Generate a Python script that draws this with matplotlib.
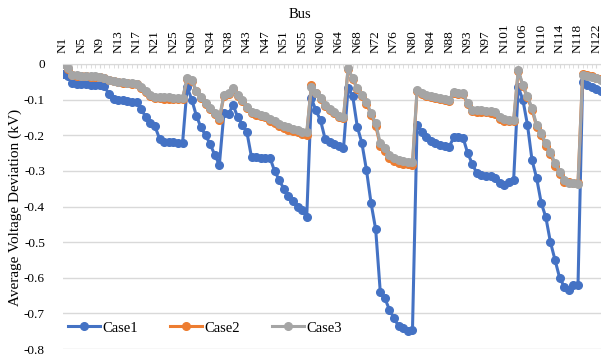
import numpy as np
import matplotlib
matplotlib.use('Agg')
import matplotlib.pyplot as plt

plt.rcParams['font.family'] = ['Liberation Serif', 'DejaVu Serif']

# bus tick labels (every 4th bus on the axis)
bus_labels = ['N1', 'N5', 'N9', 'N13', 'N17', 'N21', 'N25', 'N30', 'N34', 'N38',
              'N43', 'N47', 'N51', 'N55', 'N60', 'N64', 'N68', 'N72', 'N76', 'N80',
              'N84', 'N88', 'N93', 'N97', 'N101', 'N106', 'N110', 'N114', 'N118', 'N122']

case1 = [-0.028, -0.033, -0.052, -0.055, -0.056, -0.057, -0.058, -0.058, -0.059, -0.062,
         -0.085, -0.097, -0.100, -0.102, -0.104, -0.106, -0.108, -0.125, -0.150, -0.165,
         -0.175, -0.210, -0.218, -0.220, -0.220, -0.222, -0.222, -0.065, -0.100, -0.145,
         -0.178, -0.200, -0.225, -0.255, -0.283, -0.137, -0.140, -0.115, -0.150, -0.170,
         -0.192, -0.262, -0.262, -0.263, -0.263, -0.263, -0.300, -0.325, -0.350, -0.370,
         -0.385, -0.400, -0.410, -0.430, -0.096, -0.130, -0.158, -0.210, -0.220, -0.225,
         -0.230, -0.237, -0.068, -0.090, -0.176, -0.222, -0.298, -0.391, -0.464, -0.640,
         -0.658, -0.690, -0.714, -0.736, -0.742, -0.749, -0.747, -0.170, -0.190, -0.205,
         -0.215, -0.222, -0.228, -0.230, -0.232, -0.205, -0.204, -0.207, -0.250, -0.280,
         -0.307, -0.312, -0.313, -0.315, -0.320, -0.335, -0.340, -0.332, -0.326, -0.065,
         -0.100, -0.170, -0.270, -0.320, -0.390, -0.430, -0.500, -0.550, -0.600, -0.625,
         -0.635, -0.620, -0.620, -0.050, -0.060, -0.065, -0.070, -0.075]

case2 = [0.000, -0.013, -0.031, -0.033, -0.034, -0.035, -0.036, -0.036, -0.037, -0.039,
         -0.046, -0.049, -0.051, -0.052, -0.053, -0.055, -0.057, -0.067, -0.078, -0.091,
         -0.095, -0.096, -0.097, -0.097, -0.098, -0.098, -0.099, -0.042, -0.047, -0.077,
         -0.095, -0.112, -0.127, -0.141, -0.156, -0.089, -0.084, -0.070, -0.089, -0.103,
         -0.123, -0.138, -0.142, -0.146, -0.150, -0.160, -0.166, -0.174, -0.181, -0.184,
         -0.188, -0.192, -0.196, -0.198, -0.060, -0.080, -0.098, -0.118, -0.128, -0.138,
         -0.148, -0.151, -0.014, -0.042, -0.071, -0.091, -0.111, -0.143, -0.173, -0.229,
         -0.244, -0.263, -0.272, -0.277, -0.280, -0.282, -0.284, -0.075, -0.083, -0.090,
         -0.093, -0.095, -0.098, -0.101, -0.103, -0.081, -0.083, -0.085, -0.113, -0.132,
         -0.134, -0.134, -0.136, -0.137, -0.139, -0.154, -0.159, -0.160, -0.161, -0.019,
         -0.062, -0.094, -0.128, -0.176, -0.200, -0.229, -0.252, -0.285, -0.308, -0.330,
         -0.332, -0.333, -0.334, -0.027, -0.031, -0.034, -0.038, -0.043]

case3 = [0.000, -0.012, -0.030, -0.032, -0.033, -0.034, -0.035, -0.035, -0.036, -0.038,
         -0.045, -0.048, -0.050, -0.051, -0.052, -0.053, -0.055, -0.065, -0.075, -0.088,
         -0.092, -0.093, -0.094, -0.094, -0.095, -0.095, -0.096, -0.040, -0.045, -0.075,
         -0.093, -0.110, -0.124, -0.138, -0.152, -0.087, -0.082, -0.068, -0.087, -0.100,
         -0.120, -0.135, -0.138, -0.142, -0.146, -0.155, -0.160, -0.168, -0.175, -0.178,
         -0.182, -0.186, -0.190, -0.192, -0.064, -0.082, -0.096, -0.115, -0.125, -0.135,
         -0.145, -0.148, -0.012, -0.040, -0.068, -0.087, -0.106, -0.138, -0.167, -0.223,
         -0.237, -0.256, -0.265, -0.270, -0.273, -0.275, -0.276, -0.072, -0.080, -0.087,
         -0.090, -0.092, -0.095, -0.098, -0.100, -0.078, -0.080, -0.082, -0.110, -0.129,
         -0.130, -0.130, -0.132, -0.133, -0.135, -0.150, -0.155, -0.156, -0.157, -0.017,
         -0.059, -0.090, -0.124, -0.171, -0.195, -0.223, -0.246, -0.279, -0.302, -0.326,
         -0.335, -0.335, -0.336, -0.031, -0.034, -0.036, -0.040, -0.045]

yticks = [0, -0.1, -0.2, -0.3, -0.4, -0.5, -0.6, -0.7, -0.8]
ytick_labels = ['0', '-0.1', '-0.2', '-0.3', '-0.4', '-0.5', '-0.6', '-0.7', '-0.8']

x = np.arange(len(case1))
grid_c = '#D9D9D9'

fig = plt.figure(figsize=(6.01, 3.56), dpi=100)
ax = fig.add_axes([63/601, 7/356, 538/601, 285/356])

ax.plot(x, case1, color='#4472C4', lw=2.2, marker='o', ms=5.5, label='Case1')
ax.plot(x, case2, color='#ED7D31', lw=2.2, marker='o', ms=5.5, label='Case2')
ax.plot(x, case3, color='#A5A5A5', lw=2.2, marker='o', ms=5.5, label='Case3')

ax.set_xlim(0, len(case1) - 1)
ax.set_ylim(-0.8, 0)

ax.xaxis.tick_top()
ax.set_xticks(np.arange(0, len(bus_labels) * 4, 4))
ax.set_xticklabels(bus_labels, rotation=90, fontsize=9.5)
ax.set_xticks(x, minor=True)
ax.tick_params(axis='x', which='both', direction='in', length=3, color=grid_c, pad=8)

ax.set_yticks(yticks)
ax.set_yticklabels(ytick_labels, fontsize=9.5)
ax.tick_params(axis='y', length=0, pad=13)
ax.yaxis.grid(True, color=grid_c, lw=1)
ax.set_axisbelow(True)

for s in ['left', 'right', 'bottom']:
    ax.spines[s].set_visible(False)
ax.spines['top'].set_color(grid_c)

fig.text(300/601, 1 - 14/356, 'Bus', ha='center', va='center', fontsize=10.5)
fig.text(15/601, 1 - 207/356, 'Average Voltage Deviation (kV)', rotation=90,
         ha='center', va='center', fontsize=11)

ax.legend(loc='center left', bbox_to_anchor=(0.009, 0.074), ncol=3, frameon=False,
          fontsize=10.5, handlelength=2.2, handletextpad=0.15, columnspacing=2.2,
          borderpad=0, borderaxespad=0)

plt.savefig('out.png', dpi=100)
